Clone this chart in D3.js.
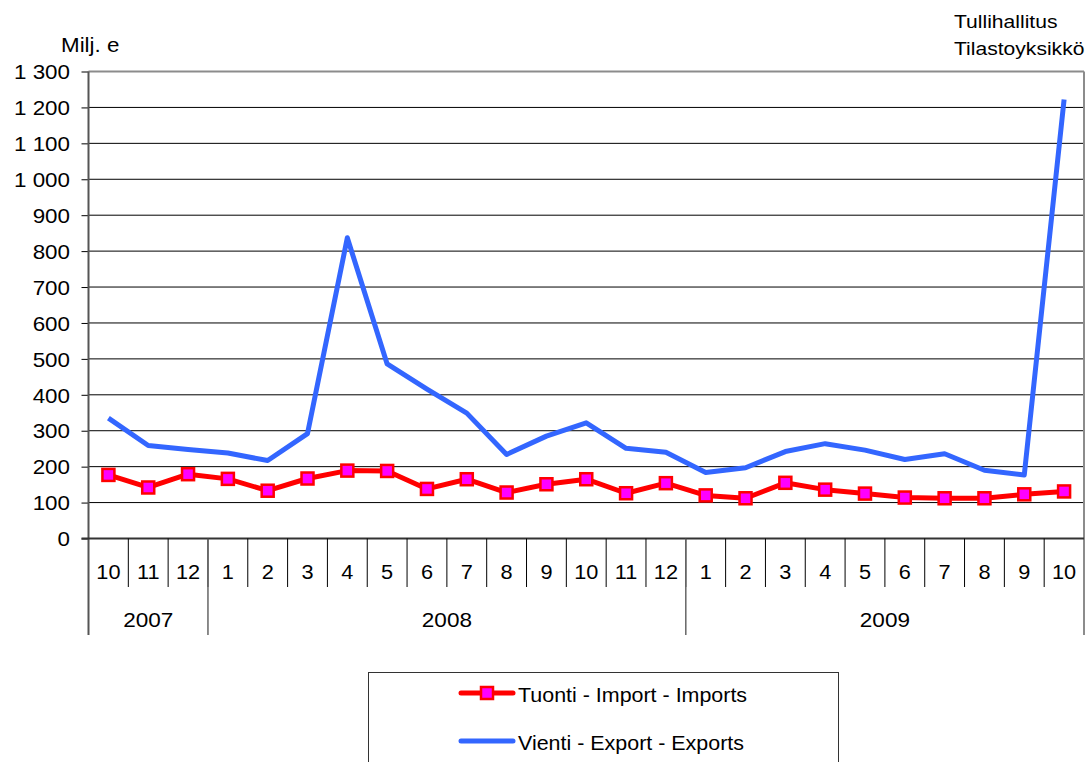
<!DOCTYPE html>
<html>
<head>
<meta charset="utf-8">
<script src="https://cdn.jsdelivr.net/npm/d3@7"></script>
<style>
  html, body { margin: 0; padding: 0; background: #fff; }
  svg { display: block; font-family: "Liberation Sans", Arial, sans-serif; }
</style>
</head>
<body>
<svg id="chart" width="1090" height="762"></svg>
<script>
// Monthly trade values, million euros
const months = ["10","11","12","1","2","3","4","5","6","7","8","9","10","11","12","1","2","3","4","5","6","7","8","9","10"];
const years = [
  { label: "2007", count: 3 },
  { label: "2008", count: 12 },
  { label: "2009", count: 10 }
];
const imports = [177,142,179,166,133,167,189,188,138,165,128,151,165,126,154,120,112,155,136,125,114,112,112,123,131];
const exports = [335,259,248,238,217,292,837,486,416,349,234,285,322,251,240,184,197,242,264,246,220,236,190,177,1222];
const yTicks = [0,100,200,300,400,500,600,700,800,900,1000,1100,1200,1300];
const seriesNames = ["Tuonti - Import - Imports", "Vienti - Export - Exports"];

const svg = d3.select("#chart");
const plotL = 88.5, plotR = 1084, plotT = 71.5, plotB = 538.5;
const FS = 20;      // label font size
const SX = 1.1;     // horizontal stretch of label glyphs

const idx = d3.range(months.length);
const x = d3.scaleBand().domain(idx).range([plotL, plotR]).paddingInner(0).paddingOuter(0);
const y = d3.scaleLinear().domain([0, 1300]).range([plotB, plotT]);
const fmt = v => d3.format(",")(v).replace(/,/g, " ");

// text placed at (px, py) with slightly widened glyphs
function label(parent, px, py, str, opts = {}) {
  const size = opts.size || FS, sx = opts.sx || SX;
  return parent.append("text")
    .attr("transform", `translate(${px},${py}) scale(${sx},1)`)
    .attr("text-anchor", opts.anchor || "start")
    .attr("font-size", size)
    .attr("fill", "#000")
    .text(str);
}

// horizontal gridlines
svg.append("g")
  .selectAll("line")
  .data(yTicks.filter(t => t > 0 && t < 1300))
  .join("line")
  .attr("x1", plotL).attr("x2", plotR)
  .attr("y1", d => y(d)).attr("y2", d => y(d))
  .attr("stroke", "#000").attr("stroke-width", 1);

// frame: top and right in grey
svg.append("line").attr("x1", plotL).attr("x2", plotR).attr("y1", y(1300)).attr("y2", y(1300))
  .attr("stroke", "#8c8c8c").attr("stroke-width", 2);
svg.append("line").attr("x1", plotR).attr("x2", plotR).attr("y1", y(1300)).attr("y2", 635)
  .attr("stroke", "#8c8c8c").attr("stroke-width", 2);

// y axis
const yAxis = d3.axisLeft(y).tickValues(yTicks).tickFormat(fmt).tickSize(7).tickPadding(11);
const gy = svg.append("g").attr("transform", `translate(${plotL},0)`).call(yAxis);
gy.select(".domain").remove();
gy.selectAll(".tick line").attr("stroke", "#000");
gy.selectAll(".tick text")
  .attr("font-size", FS).attr("fill", "#000")
  .attr("font-family", "Liberation Sans, Arial, sans-serif")
  .attr("x", -18.5 / 1.12)
  .attr("dy", "0.36em")
  .attr("transform", "scale(1.12,1)");
svg.append("line").attr("x1", plotL).attr("x2", plotL).attr("y1", y(1300)).attr("y2", 635)
  .attr("stroke", "#555").attr("stroke-width", 2);

// x axis line
svg.append("line").attr("x1", plotL - 7).attr("x2", plotR).attr("y1", plotB).attr("y2", plotB)
  .attr("stroke", "#333").attr("stroke-width", 2);

// month separators
svg.append("g").selectAll("line")
  .data(idx.slice(1))
  .join("line")
  .attr("x1", d => x(d)).attr("x2", d => x(d))
  .attr("y1", plotB).attr("y2", 587)
  .attr("stroke", "#000").attr("stroke-width", 1);

// month labels
const gm = svg.append("g");
idx.forEach(i => label(gm, x(i) + x.bandwidth() / 2, 579, months[i], { anchor: "middle", size: 20.5, sx: 1.06 }));

// year groups
let start = 0;
const yearPos = years.map(yr => {
  const s = start; start += yr.count;
  return { label: yr.label, x0: x(s), x1: s + yr.count < months.length ? x(s + yr.count) : plotR };
});
svg.append("g").selectAll("line")
  .data(yearPos.slice(0, -1))
  .join("line")
  .attr("x1", d => d.x1).attr("x2", d => d.x1)
  .attr("y1", plotB).attr("y2", 635)
  .attr("stroke", "#666").attr("stroke-width", 1.5);
const gyr = svg.append("g");
yearPos.forEach(d => label(gyr, (d.x0 + d.x1) / 2, 627, d.label, { anchor: "middle", size: 20.5, sx: 1.1 }));

// lines
const cx = i => x(i) + x.bandwidth() / 2;
const line = d3.line().x((d, i) => cx(i)).y(d => y(d));

svg.append("path").datum(exports)
  .attr("d", line).attr("fill", "none")
  .attr("stroke", "#3366ff").attr("stroke-width", 5).attr("stroke-linejoin", "round");

svg.append("path").datum(imports)
  .attr("d", line).attr("fill", "none")
  .attr("stroke", "#ff0000").attr("stroke-width", 5).attr("stroke-linejoin", "round");

svg.append("g").selectAll("rect")
  .data(imports)
  .join("rect")
  .attr("x", (d, i) => cx(i) - 6).attr("y", d => y(d) - 6)
  .attr("width", 12).attr("height", 12)
  .attr("fill", "#ff00ff").attr("stroke", "#ff0000").attr("stroke-width", 2.5);

// titles
label(svg, 61, 51.5, "Milj. e", { size: 20, sx: 1.12 });
label(svg, 954, 28, "Tullihallitus", { size: 18.5, sx: 1.14 });
label(svg, 954, 55, "Tilastoyksikkö", { size: 18.5, sx: 1.14 });

// legend
svg.append("rect").attr("x", 368.5).attr("y", 672.5).attr("width", 470).attr("height", 100)
  .attr("fill", "#fff").attr("stroke", "#333").attr("stroke-width", 1);
const lg = svg.append("g");
const legendRows = [
  { name: seriesNames[0], color: "#ff0000", marker: true, y: 693 },
  { name: seriesNames[1], color: "#3366ff", marker: false, y: 741 }
];
legendRows.forEach(r => {
  lg.append("line").attr("x1", 461).attr("x2", 513).attr("y1", r.y).attr("y2", r.y)
    .attr("stroke", r.color).attr("stroke-width", 5).attr("stroke-linecap", "round");
  if (r.marker) {
    lg.append("rect").attr("x", 481).attr("y", r.y - 6).attr("width", 12).attr("height", 12)
      .attr("fill", "#ff00ff").attr("stroke", "#ff0000").attr("stroke-width", 2.5);
  }
  label(lg, 518, r.y + 9, r.name, { size: 19.5, sx: 1.1 });
});
</script>
</body>
</html>
